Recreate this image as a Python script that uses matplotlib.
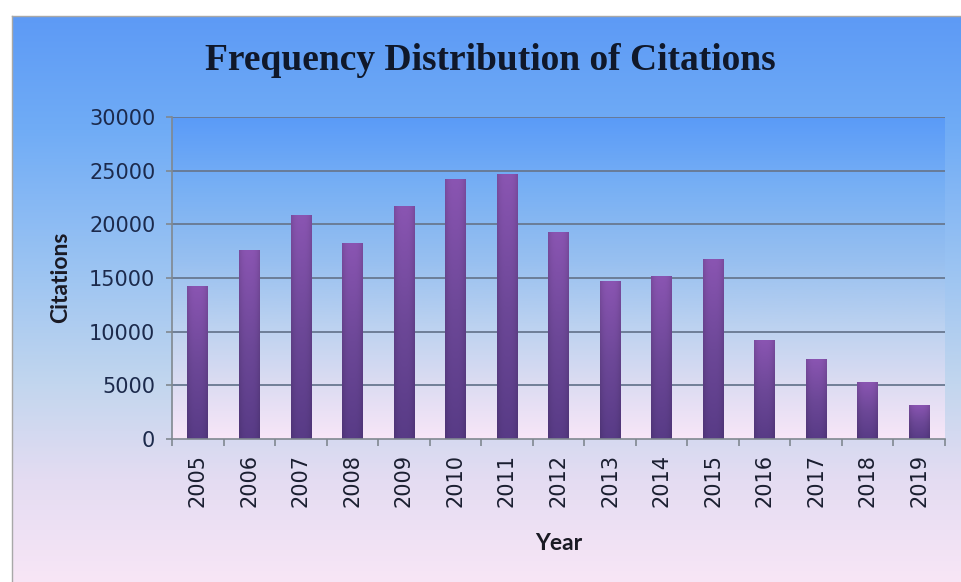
import numpy as np
import matplotlib
matplotlib.use("Agg")
import matplotlib.pyplot as plt
from matplotlib.colors import LinearSegmentedColormap
from matplotlib.ticker import FixedLocator

years = ["2005", "2006", "2007", "2008", "2009", "2010", "2011", "2012",
         "2013", "2014", "2015", "2016", "2017", "2018", "2019"]
citations = [14200, 17600, 20800, 18250, 21700, 24200, 24650, 19200,
             14700, 15100, 16750, 9200, 7400, 5300, 3100]

title = "Frequency Distribution of Citations"
x_label = "Year"
y_label = "Citations"

W, H = 962, 582

# colour ramps, bottom -> top
frame_cmap = LinearSegmentedColormap.from_list(
    "frame", [(0.0, "#f8e6f6"), (0.18, "#e4dcf2"), (0.35, "#c2d6ee"),
              (0.55, "#9cc4f2"), (0.8, "#70acf6"), (1.0, "#5d9af5")])
plot_cmap = LinearSegmentedColormap.from_list(
    "plot", [(0.0, "#f8e6f8"), (0.17, "#dcdcf2"), (0.35, "#bcd2f0"),
             (0.55, "#98c0f0"), (0.78, "#78b0f4"), (1.0, "#5a9bf8")])
bar_cmap = LinearSegmentedColormap.from_list(
    "bar", [(0.0, "#583b86"), (0.5, "#6d4898"), (1.0, "#8a55b2")])

fig = plt.figure(figsize=(W / 100, H / 100), dpi=100)
fig.patch.set_facecolor("white")

# outer chart frame with its own vertical gradient
bg = fig.add_axes([12 / W, 0, 1 - 12 / W, 1 - 16 / H], zorder=-5)
ramp = np.linspace(0, 1, 256).reshape(-1, 1)
bg.imshow(ramp, cmap=frame_cmap, origin="lower", aspect="auto",
          extent=[0, 1, 0, 1], interpolation="bicubic")
bg.set_xlim(0, 1)
bg.set_ylim(0, 1)
bg.set_xticks([])
bg.set_yticks([])
for side in ["right", "bottom"]:
    bg.spines[side].set_visible(False)
for side in ["left", "top"]:
    bg.spines[side].set_color("#a8a8a8")
    bg.spines[side].set_linewidth(1.0)

left, right, top, bottom = 172, 945, 117, 439
ax = fig.add_axes([left / W, 1 - bottom / H, (right - left) / W, (bottom - top) / H])
ax.set_facecolor("none")

n = len(years)
xs = np.arange(n)
ymax = 30000

ax.imshow(ramp, cmap=plot_cmap, origin="lower", aspect="auto",
          extent=[-0.5, n - 0.5, 0, ymax], interpolation="bicubic", zorder=0)

for yv in range(5000, ymax + 1, 5000):
    ax.axhline(yv, color="#687890", lw=1.3, zorder=1)

# bars with a vertical purple ramp and slightly darker edges
bars = ax.bar(xs, citations, width=0.4, color="none", zorder=3)
vert = np.linspace(0, 1, 128).reshape(-1, 1)
horiz = 1 - 0.12 * np.abs(np.linspace(-1, 1, 32)) ** 3
for b in bars:
    rgb = bar_cmap(vert)[:, :, :3] * horiz[None, :, None]
    ax.imshow(rgb, origin="lower", aspect="auto",
              extent=[b.get_x(), b.get_x() + b.get_width(), 0, b.get_height()],
              interpolation="bilinear", zorder=3)

ax.set_xlim(-0.5, n - 0.5)
ax.set_ylim(0, ymax)

for side in ["top", "right"]:
    ax.spines[side].set_visible(False)
for side in ["left", "bottom"]:
    ax.spines[side].set_color("#808890")
    ax.spines[side].set_linewidth(1.2)
    ax.spines[side].set_zorder(4)

ax.set_xticks(xs)
ax.set_xticklabels(years, rotation=90, fontsize=15, color="#1a1e30",
                   family="DejaVu Sans")
ax.xaxis.set_minor_locator(FixedLocator(np.arange(-0.5, n, 1.0)))
ax.tick_params(axis="x", which="major", length=0, pad=11)
ax.tick_params(axis="x", which="minor", length=5, width=1.2, color="#808890")

ax.set_yticks(range(0, ymax + 1, 5000))
ax.set_yticklabels([str(v) for v in range(0, ymax + 1, 5000)], fontsize=15,
                   color="#1c2a4c", family="DejaVu Sans")
ax.tick_params(axis="y", length=4, width=1.2, color="#808890", pad=8)

fig.text(490 / W, 1 - 60 / H, title, ha="center", va="center",
         fontsize=27, fontweight="bold", family="Liberation Serif", color="#10182a")
fig.text(61 / W, 1 - 277 / H, y_label, ha="center", va="center", rotation=90,
         fontsize=16.5, fontweight="bold", family="Lato", color="#1a1a24")
fig.text(559 / W, 1 - 543 / H, x_label, ha="center", va="center",
         fontsize=16.5, fontweight="bold", family="Lato", color="#1a1a24")

fig.savefig("out.png", dpi=100)
